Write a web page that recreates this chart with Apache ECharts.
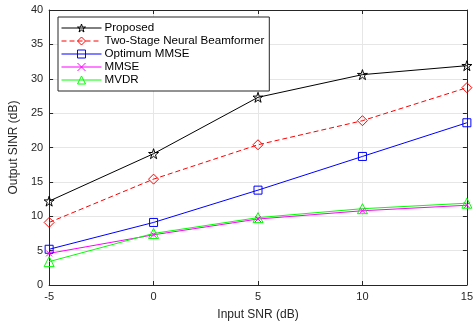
<!DOCTYPE html>
<html><head><meta charset="utf-8">
<script src="https://cdn.jsdelivr.net/npm/echarts@6/dist/echarts.min.js"></script>
<style>html,body{margin:0;padding:0;background:#fff}#c{width:476px;height:327px}</style>
</head><body><div id="c"></div>
<script>
const snr = [-5, 0, 5, 10, 15];
const proposed = [12.2, 19.1, 27.3, 30.6, 31.9];
const twoStage = [9.1, 15.4, 20.4, 23.9, 28.7];
const optMMSE = [5.2, 9.1, 13.8, 18.7, 23.6];
const mmse = [4.6, 7.3, 9.6, 10.8, 11.6];
const mvdr = [3.4, 7.5, 9.8, 11.1, 11.9];
const names = ['Proposed', 'Two-Stage Neural Beamformer', 'Optimum MMSE', 'MMSE', 'MVDR'];

const star = 'path://M50,0L61.8,36.2L100,36.2L69.1,58.8L80.9,95.1L50,72.6L19.1,95.1L30.9,58.8L0,36.2L38.2,36.2Z';
const cross = 'path://M0,0L10,10M10,0L0,10';
const font = 'Liberation Sans, Arial, sans-serif';

function pairs(v){ return snr.map((x,i)=>[x, v[i]]); }
function mk(name, data, color, symbol, size, dashed){
  return {
    name, type:'line', data: pairs(data), symbol, symbolSize:size,
    lineStyle:{color, width:1, type: dashed ? [5,3] : 'solid'},
    itemStyle:{color:'rgba(255,255,255,0)', borderColor:color, borderWidth:1},
    emphasis:{disabled:true}, animation:false, z: 3
  };
}
const chart = echarts.init(document.getElementById('c'));
const tickLbl = {color:'#262626', fontSize:11, fontFamily:font, margin:6};
const axLine = {show:true, onZero:false, lineStyle:{color:'#262626', width:1}};
const tick = {show:true, inside:true, length:4, lineStyle:{color:'#262626'}};
chart.setOption({
  backgroundColor:'#fff',
  animation:false,
  grid:{left:48, right:7, top:10, bottom:42, containLabel:false},
  legend:{
    orient:'vertical', left:58, top:17, data:names,
    backgroundColor:'#fff', borderColor:'#262626', borderWidth:1,
    padding:[5,5,5,3], itemWidth:40, itemHeight:10, itemGap:1,
    lineStyle:{width:1},
    itemStyle:{color:'rgba(255,255,255,0)', borderWidth:1},
    textStyle:{fontSize:11.6, fontFamily:font, color:'#000', padding:[0,0,0,-2]}
  },
  xAxis:[{
    type:'value', min:-5, max:15, interval:5,
    name:'Input SNR (dB)', nameLocation:'middle', nameGap:24,
    nameTextStyle:{fontSize:12, fontFamily:font, color:'#262626'},
    axisLine:axLine, axisTick:tick, axisLabel:tickLbl,
    splitLine:{show:true, lineStyle:{color:'#e6e6e6', width:1}}
  },{
    type:'value', position:'top', min:-5, max:15, interval:5,
    axisLine:axLine, axisTick:tick,
    axisLabel:{show:false}, splitLine:{show:false}
  }],
  yAxis:[{
    type:'value', min:0, max:40, interval:5,
    name:'Output SINR (dB)', nameLocation:'middle', nameGap:27,
    nameTextStyle:{fontSize:12, fontFamily:font, color:'#262626'},
    axisLine:axLine, axisTick:tick, axisLabel:tickLbl,
    splitLine:{show:true, lineStyle:{color:'#e6e6e6', width:1}}
  },{
    type:'value', position:'right', min:0, max:40, interval:5,
    axisLine:axLine, axisTick:tick,
    axisLabel:{show:false}, splitLine:{show:false}
  }],
  series:[
    mk(names[0], proposed, '#000000', star, 10, false),
    mk(names[1], twoStage, '#ff0000', 'diamond', 10, true),
    mk(names[2], optMMSE, '#0000ff', 'rect', 8, false),
    mk(names[3], mmse, '#ff00ff', cross, 6, false),
    mk(names[4], mvdr, '#00ff00', 'triangle', 10, false)
  ]
});
</script></body></html>
